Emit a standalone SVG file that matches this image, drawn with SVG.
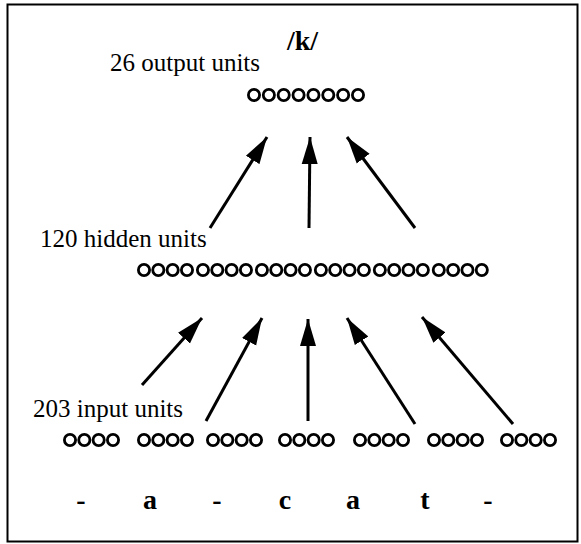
<svg xmlns="http://www.w3.org/2000/svg" width="581" height="544" viewBox="0 0 581 544">
<style>
.u{fill:none;stroke:#000;stroke-width:2.8}
.lbl{font-family:"Liberation Serif","Times New Roman",serif;font-size:25px;fill:#000}
.b{font-weight:bold}
.big{font-size:28px}
.c{stroke:#000;stroke-width:3;fill:none}
</style>
<defs>
<marker id="ah" markerUnits="userSpaceOnUse" markerWidth="30" markerHeight="18" refX="27" refY="8" orient="auto" viewBox="0 0 30 16">
<path d="M0,0 L27,8 L0,16 Z" fill="#000"/>
</marker>
<circle id="n" r="5.6" class="u"/>
<g id="g4"><use href="#n" x="0"/><use href="#n" x="14.33"/><use href="#n" x="28.66"/><use href="#n" x="43"/></g>
</defs>
<rect x="7.5" y="4.5" width="570" height="537" fill="#fff" stroke="#000" stroke-width="2"/>
<g id="output">
<text class="lbl b big" x="287" y="50">/k/</text>
<text class="lbl" x="110" y="71">26 output units</text>
<g transform="translate(254,95)">
<use href="#n" x="0"/><use href="#n" x="14.86"/><use href="#n" x="29.71"/><use href="#n" x="44.57"/><use href="#n" x="59.43"/><use href="#n" x="74.29"/><use href="#n" x="89.14"/><use href="#n" x="104"/>
</g>
</g>
<g id="hidden">
<text class="lbl" x="40" y="247">120 hidden units</text>
<g transform="translate(144,270)">
<use href="#g4" x="0"/><use href="#g4" x="58.96"/><use href="#g4" x="117.92"/><use href="#g4" x="176.88"/><use href="#g4" x="235.84"/><use href="#g4" x="294.8"/>
</g>
</g>
<g id="input">
<text class="lbl" x="33" y="417">203 input units</text>
<use href="#g4" x="70" y="440"/>
<use href="#g4" x="144" y="440"/>
<use href="#g4" x="213" y="440"/>
<use href="#g4" x="285" y="440"/>
<use href="#g4" x="360" y="440"/>
<use href="#g4" x="434" y="440"/>
<use href="#g4" x="507" y="440"/>
</g>
<g id="letters" class="lbl b big" text-anchor="middle">
<text x="81" y="509">-</text>
<text x="150" y="509">a</text>
<text x="217" y="509">-</text>
<text x="285" y="509">c</text>
<text x="353" y="509">a</text>
<text x="425" y="509">t</text>
<text x="488" y="509">-</text>
</g>
<g id="connectors">
<line class="c" x1="210" y1="228" x2="267" y2="137" marker-end="url(#ah)"/>
<line class="c" x1="309" y1="228" x2="310" y2="137" marker-end="url(#ah)"/>
<line class="c" x1="415" y1="228" x2="347" y2="137" marker-end="url(#ah)"/>
<line class="c" x1="142" y1="385" x2="202" y2="318" marker-end="url(#ah)"/>
<line class="c" x1="206" y1="421" x2="262" y2="318" marker-end="url(#ah)"/>
<line class="c" x1="308" y1="421" x2="308" y2="319" marker-end="url(#ah)"/>
<line class="c" x1="415" y1="424" x2="347" y2="318" marker-end="url(#ah)"/>
<line class="c" x1="513" y1="424" x2="422" y2="317" marker-end="url(#ah)"/>
</g>
</svg>
